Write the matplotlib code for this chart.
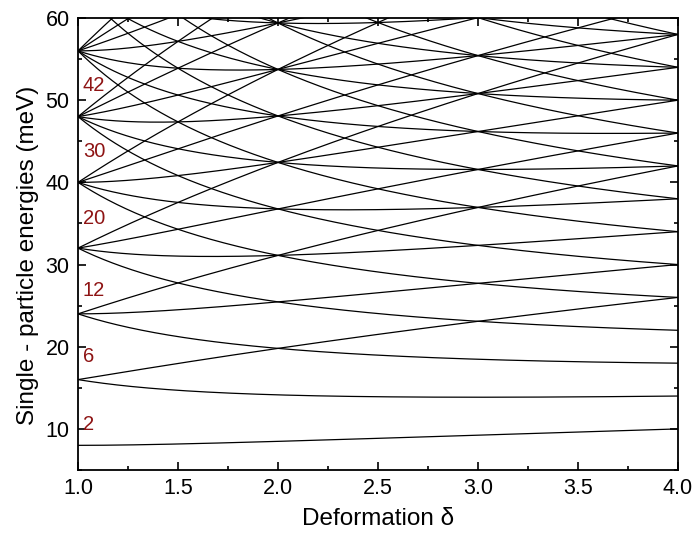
import numpy as np
import matplotlib
matplotlib.use("Agg")
import matplotlib.pyplot as plt
from matplotlib.ticker import MultipleLocator

# 2D anisotropic harmonic oscillator: E = hw_x (nx + 1/2) + hw_y (ny + 1/2)
# with hw_x = hw0 * sqrt(delta), hw_y = hw0 / sqrt(delta)
hbar_omega0 = 8.0            # meV
nx_values = list(range(0, 16))
ny_values = list(range(0, 16))
delta = np.linspace(1.0, 4.0, 400)

# shell-closure electron numbers and their label heights (meV)
shell_numbers = ["2", "6", "12", "20", "30", "42"]
shell_label_y = [10.5, 18.8, 26.9, 35.6, 43.8, 51.8]

plt.rcParams["font.family"] = ["Liberation Sans", "DejaVu Sans"]

fig = plt.figure(figsize=(6.96, 5.34), dpi=100)
ax = fig.add_axes([78 / 696, 1 - 470 / 534, 600 / 696, 452 / 534])

hw_x = hbar_omega0 * np.sqrt(delta)
hw_y = hbar_omega0 / np.sqrt(delta)
for nx in nx_values:
    for ny in ny_values:
        energy = hw_x * (nx + 0.5) + hw_y * (ny + 0.5)
        if energy.min() > 60:
            continue
        ax.plot(delta, energy, color="black", lw=0.9)

for txt, y in zip(shell_numbers, shell_label_y):
    ax.text(1.025, y, txt, color="#8e1414", fontsize=14.5, ha="left", va="center")

ax.set_xlim(1.0, 4.0)
ax.set_ylim(5, 60)
ax.xaxis.set_major_locator(MultipleLocator(0.5))
ax.xaxis.set_minor_locator(MultipleLocator(0.25))
ax.yaxis.set_major_locator(MultipleLocator(10))
ax.yaxis.set_minor_locator(MultipleLocator(5))
ax.tick_params(which="both", direction="in", top=True, right=True, width=1.2)
ax.tick_params(which="major", length=6, labelsize=15.5, pad=6)
ax.tick_params(which="minor", length=3)
for s in ax.spines.values():
    s.set_linewidth(1.3)

ax.set_xlabel("Deformation δ", fontsize=17.5)
ax.xaxis.set_label_coords(0.5, -0.083)
ax.set_ylabel("Single - particle energies (meV)", fontsize=17.5)
ax.yaxis.set_label_coords(-0.065, 0.475)

fig.savefig("out.png", dpi=100)
